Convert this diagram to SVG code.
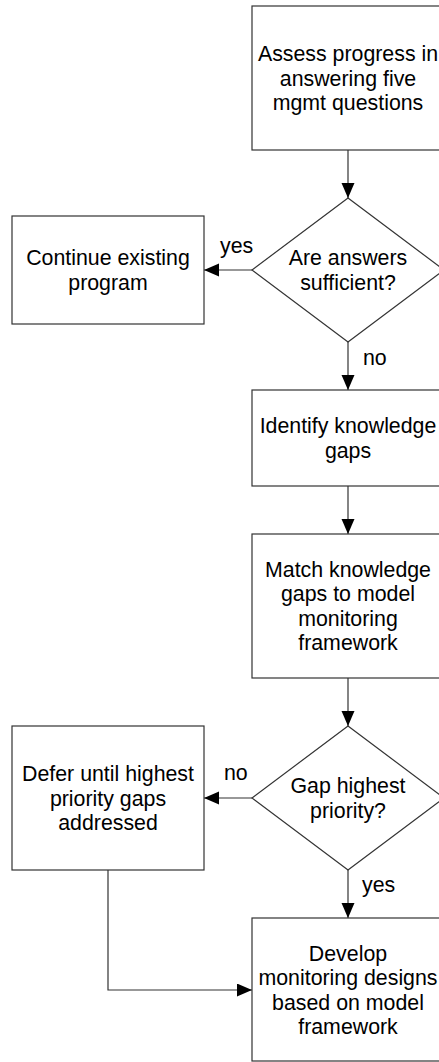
<svg xmlns="http://www.w3.org/2000/svg" width="439" height="1062" viewBox="0 0 439 1062">
<style>
.node{fill:#fff;stroke:#333;stroke-width:1.2}
.t{font-family:"Liberation Sans",Arial,sans-serif;font-size:21.33px;fill:#000;text-anchor:middle}
.lbl{font-family:"Liberation Sans",Arial,sans-serif;font-size:21.33px;fill:#000}
.c{fill:none;stroke:#333;stroke-width:1.2}
</style>
<defs>
<marker id="ah" markerUnits="userSpaceOnUse" markerWidth="16" markerHeight="14" refX="15" refY="6.5" orient="auto">
<path d="M0,0 L15,6.5 L0,13 Z" fill="#000"/>
</marker>
</defs>
<rect width="439" height="1062" fill="#fff"/>
<g id="connectors">
<line class="c" x1="348" y1="150" x2="348" y2="198" marker-end="url(#ah)"/>
<line class="c" x1="252" y1="270" x2="204" y2="270" marker-end="url(#ah)"/>
<line class="c" x1="348" y1="342" x2="348" y2="390" marker-end="url(#ah)"/>
<line class="c" x1="348" y1="486" x2="348" y2="534" marker-end="url(#ah)"/>
<line class="c" x1="348" y1="678" x2="348" y2="726" marker-end="url(#ah)"/>
<line class="c" x1="252" y1="798" x2="204" y2="798" marker-end="url(#ah)"/>
<line class="c" x1="348" y1="870" x2="348" y2="918" marker-end="url(#ah)"/>
<polyline class="c" points="108,870 108,990 252,990" marker-end="url(#ah)"/>
<text class="lbl" x="220" y="253">yes</text>
<text class="lbl" x="363" y="365">no</text>
<text class="lbl" x="224" y="780">no</text>
<text class="lbl" x="362" y="892">yes</text>
</g>
<g id="assess">
<rect class="node" x="252" y="6" width="192" height="144"/>
<text class="t" x="348" y="61">Assess progress in</text>
<text class="t" x="348" y="85.5">answering five</text>
<text class="t" x="348" y="110">mgmt questions</text>
</g>
<g id="sufficient">
<polygon class="node" points="348,198 444,270 348,342 252,270"/>
<text class="t" x="348" y="265.25">Are answers</text>
<text class="t" x="348" y="289.75">sufficient?</text>
</g>
<g id="continue">
<rect class="node" x="12" y="216" width="192" height="108"/>
<text class="t" x="108" y="265.25">Continue existing</text>
<text class="t" x="108" y="289.75">program</text>
</g>
<g id="identify">
<rect class="node" x="252" y="390" width="192" height="96"/>
<text class="t" x="348" y="433.25">Identify knowledge</text>
<text class="t" x="348" y="457.75">gaps</text>
</g>
<g id="match">
<rect class="node" x="252" y="534" width="192" height="144"/>
<text class="t" x="348" y="576.75">Match knowledge</text>
<text class="t" x="348" y="601.25">gaps to model</text>
<text class="t" x="348" y="625.75">monitoring</text>
<text class="t" x="348" y="650.25">framework</text>
</g>
<g id="priority">
<polygon class="node" points="348,726 444,798 348,870 252,798"/>
<text class="t" x="348" y="793.25">Gap highest</text>
<text class="t" x="348" y="817.75">priority?</text>
</g>
<g id="defer">
<rect class="node" x="12" y="726" width="192" height="144"/>
<text class="t" x="108" y="781">Defer until highest</text>
<text class="t" x="108" y="805.5">priority gaps</text>
<text class="t" x="108" y="830">addressed</text>
</g>
<g id="develop">
<rect class="node" x="252" y="918" width="192" height="143"/>
<text class="t" x="348" y="960.75">Develop</text>
<text class="t" x="348" y="985.25">monitoring designs</text>
<text class="t" x="348" y="1009.75">based on model</text>
<text class="t" x="348" y="1034.25">framework</text>
</g>
</svg>
